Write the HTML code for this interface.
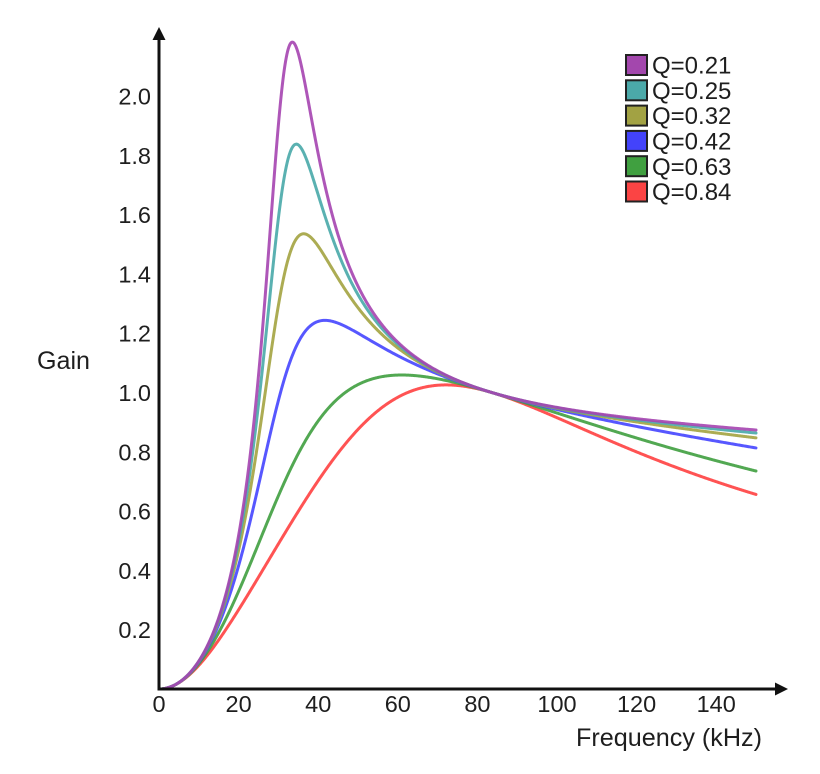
<!DOCTYPE html>
<html>
<head>
<meta charset="utf-8">
<style>
  html, body { margin: 0; padding: 0; background: #ffffff; }
  svg { display: block; }
  text { font-family: "Liberation Sans", Arial, sans-serif; fill: #1e1e1e; }
</style>
</head>
<body>
<svg id="chart" width="820" height="774" viewBox="0 0 820 774" xmlns="http://www.w3.org/2000/svg">
  <rect x="0" y="0" width="820" height="774" fill="#ffffff"/>
  <g id="curves" fill="none" stroke-width="3" stroke-linejoin="round" stroke-linecap="round"></g>

  <!-- axes -->
  <line x1="159" y1="38" x2="159" y2="690.5" stroke="#111" stroke-width="3"/>
  <polygon points="159,27 152.5,40 165.5,40" fill="#111"/>
  <line x1="157.5" y1="689" x2="777" y2="689" stroke="#111" stroke-width="3"/>
  <polygon points="788,689 775,682.5 775,695.5" fill="#111"/>

  <!-- y tick labels -->
  <g font-size="23.5" text-anchor="end">
    <text x="151" y="104.5">2.0</text>
    <text x="151" y="163.8">1.8</text>
    <text x="151" y="223.1">1.6</text>
    <text x="151" y="282.4">1.4</text>
    <text x="151" y="341.7">1.2</text>
    <text x="151" y="401">1.0</text>
    <text x="151" y="460.3">0.8</text>
    <text x="151" y="519.6">0.6</text>
    <text x="151" y="578.9">0.4</text>
    <text x="151" y="638.2">0.2</text>
  </g>

  <!-- x tick labels -->
  <g font-size="23.5" text-anchor="middle">
    <text x="159" y="712">0</text>
    <text x="238.6" y="712">20</text>
    <text x="318.2" y="712">40</text>
    <text x="397.8" y="712">60</text>
    <text x="477.4" y="712">80</text>
    <text x="557" y="712">100</text>
    <text x="636.6" y="712">120</text>
    <text x="716.2" y="712">140</text>
  </g>

  <!-- axis titles -->
  <text x="37" y="369" font-size="25" textLength="53" lengthAdjust="spacingAndGlyphs">Gain</text>
  <text x="576" y="746" font-size="25" textLength="186" lengthAdjust="spacingAndGlyphs">Frequency (kHz)</text>

  <!-- legend -->
  <g stroke="#222" stroke-width="2">
    <rect x="626" y="55" width="21" height="20" fill="#a347ad"/>
    <rect x="626" y="80.3" width="21" height="20" fill="#4ba9a9"/>
    <rect x="626" y="105.6" width="21" height="20" fill="#a2a243"/>
    <rect x="626" y="130.9" width="21" height="20" fill="#4343fb"/>
    <rect x="626" y="156.2" width="21" height="20" fill="#40a040"/>
    <rect x="626" y="181.5" width="21" height="20" fill="#fb4444"/>
  </g>
  <g font-size="24">
    <text x="652" y="73.6">Q=0.21</text>
    <text x="652" y="98.9">Q=0.25</text>
    <text x="652" y="124.2">Q=0.32</text>
    <text x="652" y="149.5">Q=0.42</text>
    <text x="652" y="174.8">Q=0.63</text>
    <text x="652" y="200.1">Q=0.84</text>
  </g>
</svg>
<script>
(function(){
  var Ln = 6.0, fr = 83.6;
  var x0 = 159, pxPerK = 3.98, y0 = 689, pxPerU = 296.5;
  var series = [
    {q:0.84, c:"#ff4040"},
    {q:0.63, c:"#3f9f3f"},
    {q:0.42, c:"#4545ff"},
    {q:0.314, c:"#a3a340"},
    {q:0.254, c:"#48a8a8"},
    {q:0.21, c:"#a544b0"}
  ];
  var g = document.getElementById("curves");
  var ns = "http://www.w3.org/2000/svg";
  series.forEach(function(s){
    var d = "";
    var N = 900;
    for (var i = 0; i <= N; i++) {
      var f = 1 + 149 * i / N;
      var fn = f / fr, fn2 = fn * fn;
      var A = (Ln + 1) * fn2 - 1;
      var B = (fn2 - 1) * fn * s.q * Ln;
      var M = Ln * fn2 / Math.sqrt(A * A + B * B);
      var x = x0 + pxPerK * f;
      var y = y0 - pxPerU * M;
      d += (i === 0 ? "M" : "L") + x.toFixed(2) + "," + y.toFixed(2);
    }
    var p = document.createElementNS(ns, "path");
    p.setAttribute("d", d);
    p.setAttribute("stroke", s.c);
    p.setAttribute("stroke-opacity", "0.9");
    g.appendChild(p);
  });
})();
</script>
</body>
</html>
